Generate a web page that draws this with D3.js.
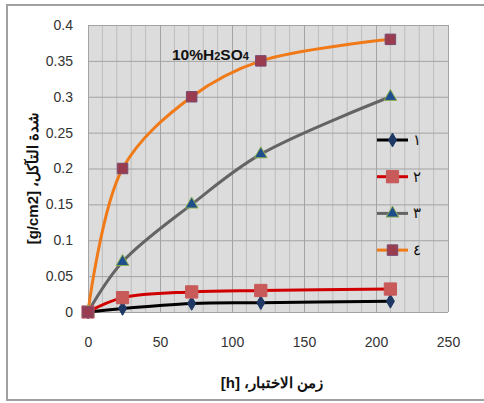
<!DOCTYPE html>
<html>
<head>
<meta charset="utf-8">
<script src="https://cdn.jsdelivr.net/npm/d3@7"></script>
<style>
  body { margin: 0; background: #fff; }
  svg { display: block; font-family: "Liberation Sans", Arial, sans-serif; }
</style>
</head>
<body>
<div id="vis"></div>
<script>
// Data
const hours = [0, 24, 72, 120, 210];
const series1 = [0, 0.005, 0.012, 0.013, 0.015];
const series2 = [0, 0.02, 0.028, 0.03, 0.032];
const series3 = [0, 0.07, 0.15, 0.22, 0.3];
const series4 = [0, 0.2, 0.3, 0.35, 0.38];
const seriesNames = ['١', '٢', '٣', '٤'];
const xTicks = [0, 50, 100, 150, 200, 250];
const yTicks = [0, 0.05, 0.1, 0.15, 0.2, 0.25, 0.3, 0.35, 0.4];

const width = 484, height = 403;

const svg = d3.select('#vis').append('svg')
    .attr('width', width)
    .attr('height', height);

// outer frame
svg.append('rect')
    .attr('x', 7).attr('y', 5)
    .attr('width', 490).attr('height', 395)
    .attr('fill', '#fff')
    .attr('stroke', '#a0a0a0')
    .attr('stroke-width', 2);

const x = d3.scaleLinear().domain([0, 250]).range([88, 448]);
const y = d3.scaleLinear().domain([0, 0.4]).range([312, 25]);

const plot = svg.append('g');

plot.append('rect')
    .attr('x', x(0)).attr('y', y(0.4))
    .attr('width', x(250) - x(0)).attr('height', y(0) - y(0.4))
    .attr('fill', '#dcdcdc');

// minor vertical grid (every 10 h)
plot.append('g')
    .selectAll('line')
    .data(d3.range(10, 250, 10).filter(d => d % 50 != 0))
    .join('line')
    .attr('x1', d => x(d)).attr('x2', d => x(d))
    .attr('y1', y(0.4)).attr('y2', y(0))
    .attr('stroke', '#bdbdbd')
    .attr('stroke-width', 1);

// major grid
plot.append('g')
    .call(d3.axisBottom(x).tickValues(xTicks).tickSize(-(y(0) - y(0.4))).tickFormat(''))
    .attr('transform', `translate(0,${y(0)})`)
    .call(g => g.select('.domain').remove())
    .call(g => g.selectAll('line').attr('stroke', '#a3a3a3'));

plot.append('g')
    .call(d3.axisLeft(y).tickValues(yTicks).tickSize(-(x(250) - x(0))).tickFormat(''))
    .attr('transform', `translate(${x(0)},0)`)
    .call(g => g.select('.domain').remove())
    .call(g => g.selectAll('line').attr('stroke', '#a3a3a3'));

// tick labels
const xAxis = svg.append('g')
    .attr('transform', `translate(0,${y(0)})`)
    .call(d3.axisBottom(x).tickValues(xTicks).tickSize(0).tickPadding(25))
    .call(g => g.select('.domain').remove());
xAxis.selectAll('text')
    .attr('font-size', 14)
    .attr('font-family', '"Liberation Sans", Arial, sans-serif')
    .attr('fill', '#333');

const yAxis = svg.append('g')
    .attr('transform', `translate(${x(0)},0)`)
    .call(d3.axisLeft(y).tickValues(yTicks).tickSize(0).tickPadding(15).tickFormat(d => d3.format('')(+d.toFixed(2))))
    .call(g => g.select('.domain').remove());
yAxis.selectAll('text')
    .attr('font-size', 14)
    .attr('font-family', '"Liberation Sans", Arial, sans-serif')
    .attr('fill', '#333');

// series
const styles = [
    {values: series1, color: '#000000', marker: d3.symbolDiamond, size: 55, fill: '#1f3864', stroke: '#1f3864'},
    {values: series2, color: '#d00000', marker: d3.symbolSquare, size: 150, fill: '#c85a5a', stroke: '#c85a5a'},
    {values: series3, color: '#646464', marker: d3.symbolTriangle, size: 70, fill: '#1f4e8c', stroke: '#8fb050'},
    {values: series4, color: '#f07a18', marker: d3.symbolSquare, size: 110, fill: '#9a3c50', stroke: '#7a4a70'}
];

const line = d3.line()
    .x((d, i) => x(hours[i]))
    .y(d => y(d))
    .curve(d3.curveCatmullRom.alpha(0.5));

styles.forEach(s => {
    plot.append('path')
        .datum(s.values)
        .attr('d', line)
        .attr('fill', 'none')
        .attr('stroke', s.color)
        .attr('stroke-width', 3);
});

styles.forEach(s => {
    plot.append('g')
        .selectAll('path')
        .data(s.values)
        .join('path')
        .attr('transform', (d, i) => `translate(${x(hours[i])},${y(d)})`)
        .attr('d', d3.symbol().type(s.marker).size(s.size))
        .attr('fill', s.fill)
        .attr('stroke', s.stroke)
        .attr('stroke-width', 1);
});

// legend
const legend = svg.append('g').attr('transform', 'translate(377,140)');
styles.forEach((s, i) => {
    const row = legend.append('g').attr('transform', `translate(0,${i * 36.7})`);
    row.append('line')
        .attr('x1', 0).attr('x2', 31)
        .attr('stroke', s.color)
        .attr('stroke-width', 3);
    row.append('path')
        .attr('transform', 'translate(15.5,0)')
        .attr('d', d3.symbol().type(s.marker).size(s.size))
        .attr('fill', s.fill)
        .attr('stroke', s.stroke);
    row.append('text')
        .attr('x', 36).attr('y', 5)
        .attr('font-size', 15)
        .attr('fill', '#111')
        .text(seriesNames[i]);
});

// annotation
const note = svg.append('text')
    .attr('x', 172).attr('y', 60)
    .attr('font-size', 15.5)
    .attr('font-weight', 'bold')
    .attr('fill', '#111');
note.append('tspan').text('10%H');
note.append('tspan').attr('font-size', 11).text('2');
note.append('tspan').text('SO');
note.append('tspan').attr('font-size', 11).text('4');

// axis titles
svg.append('text')
    .attr('x', 272).attr('y', 388)
    .attr('text-anchor', 'middle')
    .attr('direction', 'rtl')
    .attr('font-size', 15)
    .attr('font-weight', 'bold')
    .attr('fill', '#111')
    .text('زمن الاختبار، [h]');

svg.append('text')
    .attr('transform', 'translate(38,178) rotate(-90)')
    .attr('text-anchor', 'middle')
    .attr('direction', 'rtl')
    .attr('font-size', 15)
    .attr('font-weight', 'bold')
    .attr('fill', '#111')
    .text('شدة التآكل، [g/cm2]');
</script>
</body>
</html>
